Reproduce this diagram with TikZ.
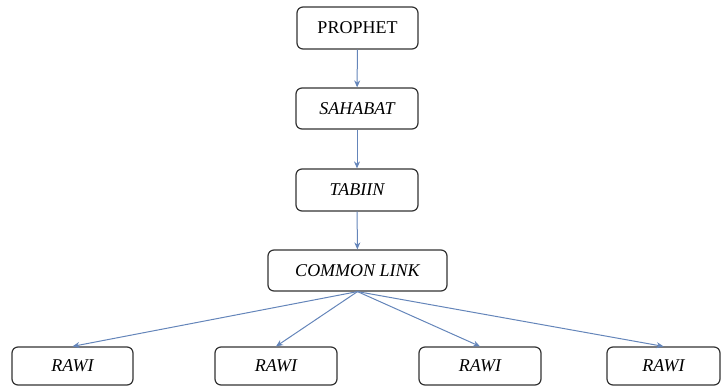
\documentclass[tikz,border=0pt]{standalone}
\usepackage{fontspec}
\setmainfont{Liberation Serif}
\usetikzlibrary{arrows.meta}
\definecolor{linkblue}{HTML}{6485BA}
\definecolor{boxline}{HTML}{333333}
\begin{document}
\begin{tikzpicture}[x=1pt,y=-1pt,
  chainbox/.style={draw=boxline, line width=1.2pt, rounded corners=6pt,
    fill=white, inner sep=0pt, font=\fontsize{18}{21}\selectfont},
  link/.style={draw=linkblue, line width=1pt,
    -{Stealth[length=7pt,width=6pt]}}]
  \useasboundingbox (0,0) rectangle (722,387);
  % chain of transmission
  \node[chainbox, minimum width=121pt, minimum height=42pt] (prophet) at (357.5,28) {PROPHET};
  \node[chainbox, minimum width=122pt, minimum height=41pt] (sahabat) at (357,108.5) {\itshape SAHABAT};
  \node[chainbox, minimum width=122pt, minimum height=42pt] (tabiin) at (357,190) {\itshape TABIIN};
  \node[chainbox, minimum width=179pt, minimum height=41pt] (common) at (357.5,270.5) {\itshape COMMON LINK};
  % narrators
  \node[chainbox, minimum width=121pt, minimum height=38pt] (rawiA) at (72.5,366) {\itshape RAWI};
  \node[chainbox, minimum width=122pt, minimum height=38pt] (rawiB) at (276,366) {\itshape RAWI};
  \node[chainbox, minimum width=122pt, minimum height=38pt] (rawiC) at (480,366) {\itshape RAWI};
  \node[chainbox, minimum width=113pt, minimum height=38pt] (rawiD) at (663.5,366) {\itshape RAWI};
  % connectors
  \draw[link] (prophet) -- (sahabat);
  \draw[link] (sahabat) -- (tabiin);
  \draw[link] (tabiin) -- (common);
  \foreach \r in {rawiA,rawiB,rawiC,rawiD}
    \draw[link] (common.south) -- (\r.north);
\end{tikzpicture}
\end{document}
